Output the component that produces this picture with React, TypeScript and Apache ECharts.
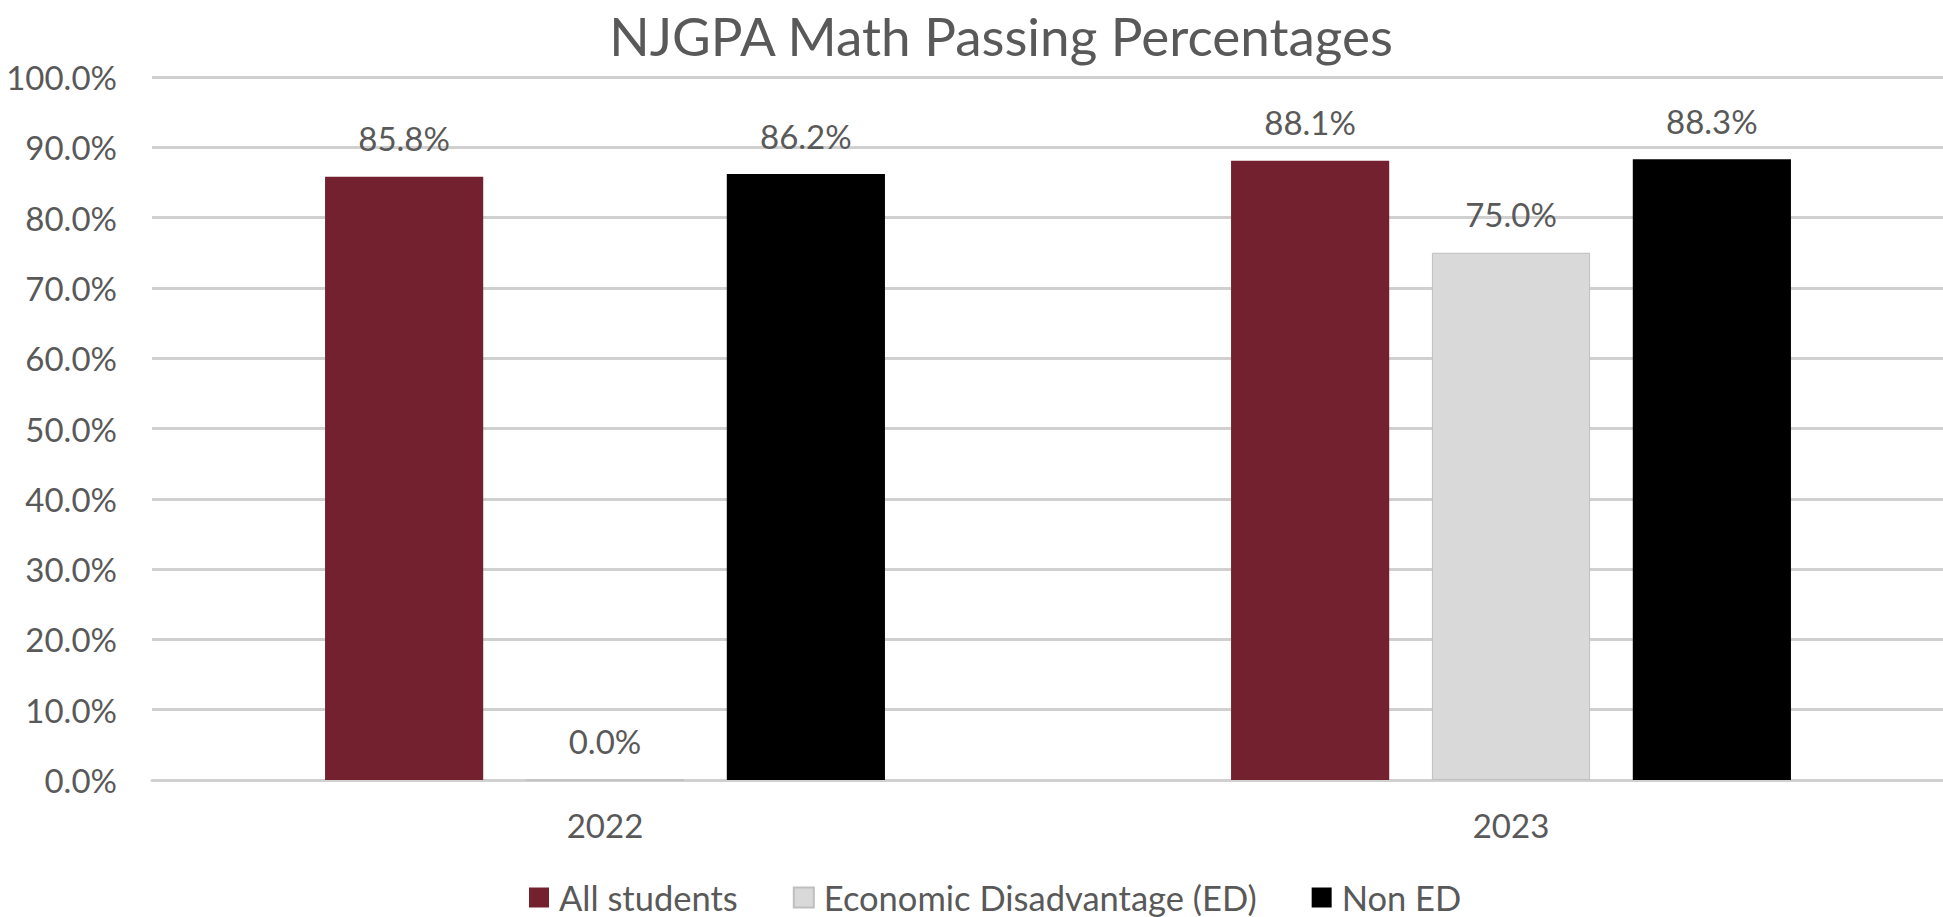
import React, { useEffect, useRef } from "react";
import * as echarts from "echarts";

const categories = ["2022", "2023"];
const seriesNames = ["All students", "Economic Disadvantage (ED)", "Non ED"];
const allStudents = [85.8, 88.1];
const econDisadv = [0.0, 75.0];
const nonED = [86.2, 88.3];
const yTicks = [0, 10, 20, 30, 40, 50, 60, 70, 80, 90, 100];
const titleText = "NJGPA Math Passing Percentages";

const FONT = "Lato";
const TEXT = "#595959";

export default function App() {
  const ref = useRef<HTMLDivElement>(null);
  useEffect(() => {
    if (!ref.current) return;
    const chart = echarts.init(ref.current, null, { renderer: "svg" });
    const label = {
      show: true,
      position: "top",
      distance: 22,
      color: TEXT,
      fontFamily: FONT,
      fontSize: 33,
      formatter: (p: any) => Number(p.value).toFixed(1) + "%",
    };
    chart.setOption({
      animation: false,
      backgroundColor: "#ffffff",
      graphic: [
        {
          type: "text",
          x: 1001,
          y: 35,
          style: {
            text: titleText,
            fill: TEXT,
            font: `53px ${FONT}`,
            textAlign: "center",
            textVerticalAlign: "middle",
          },
        },
      ],
      legend: {
        data: seriesNames,
        left: 529,
        top: 880,
        itemWidth: 20,
        itemHeight: 20,
        itemGap: 55,
        icon: "rect",
        padding: 0,
        textStyle: {
          color: TEXT,
          fontFamily: FONT,
          fontSize: 34.5,
          lineHeight: 34,
          padding: [0, 0, 0, 5],
        },
      },
      grid: { left: 152, right: 0, top: 77, bottom: 917 - 780, containLabel: false },
      xAxis: {
        type: "category",
        data: categories,
        axisLine: { show: true, lineStyle: { color: "#d0d0d0", width: 3 } },
        axisTick: { show: false },
        axisLabel: { color: TEXT, fontFamily: FONT, fontSize: 33, margin: 28 },
      },
      yAxis: {
        type: "value",
        min: 0,
        max: 100,
        interval: 10,
        axisLine: { show: false },
        axisTick: { show: false },
        splitLine: { lineStyle: { color: "#d0d0d0", width: 3 } },
        axisLabel: {
          color: TEXT,
          fontFamily: FONT,
          fontSize: 33,
          margin: 35,
          formatter: (v: number) => (yTicks.includes(v) ? v.toFixed(1) + "%" : ""),
        },
      },
      series: [
        {
          name: seriesNames[0],
          type: "bar",
          data: allStudents,
          barCategoryGap: "38.2%",
          barGap: "27%",
          itemStyle: { color: "#73212F" },
          label,
        },
        {
          name: seriesNames[1],
          type: "bar",
          data: econDisadv,
          itemStyle: { color: "#D9D9D9", borderColor: "#BFBFBF", borderWidth: 1 },
          label,
        },
        {
          name: seriesNames[2],
          type: "bar",
          data: nonED,
          itemStyle: { color: "#000000" },
          label,
        },
      ],
    });
    return () => chart.dispose();
  }, []);
  return (
    <div
      style={{
        position: "absolute",
        left: 0,
        top: 0,
        width: 1943,
        height: 917,
        overflow: "hidden",
      }}
    >
      <div ref={ref} style={{ width: 1964, height: 917 }} />
    </div>
  );
}
